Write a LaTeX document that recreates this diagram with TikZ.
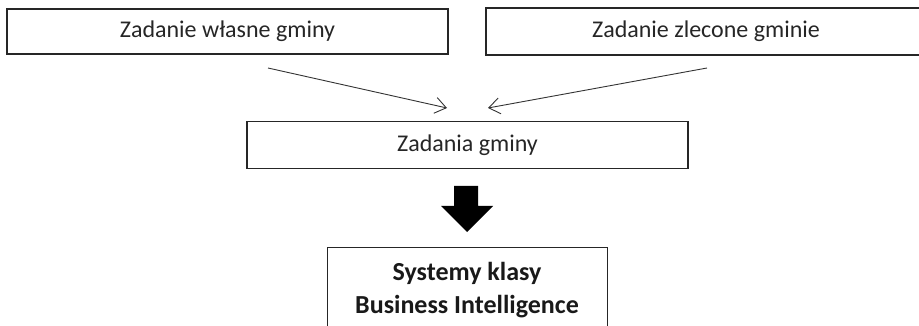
\documentclass[tikz,border=0pt]{standalone}
\usepackage{fontspec}
\setmainfont{Carlito}
\usetikzlibrary{arrows.meta}
\begin{document}
\begin{tikzpicture}[x=1pt,y=-1pt,
  box/.style={draw=black!85, line width=1.1pt, inner sep=0pt, font=\fontsize{24}{28}\selectfont, text=black!85},
  thin/.style={draw=black!80, line width=0.9pt, -{Straight Barb[length=11pt,width=16pt,line width=0.9pt]}}]
\useasboundingbox (0,0) rectangle (919,326);
\node[box, minimum width=441pt, minimum height=45pt] (own) at (227.5,31.5) {Zadanie własne gminy};
\node[box, minimum width=440pt, minimum height=47pt] (del) at (706,31.5) {Zadanie zlecone gminie};
\node[box, minimum width=441pt, minimum height=47pt] (tasks) at (467.5,145) {Zadania gminy};
\coordinate (a1s) at (268,68);
\coordinate (a1e) at (447,108);
\coordinate (a2s) at (707,68);
\coordinate (a2e) at (488,108);
\draw[thin] (a1s) -- (a1e);
\draw[thin] (a2s) -- (a2e);
\node[box, minimum width=280pt, minimum height=100pt, anchor=north west] (bi) at (327,247) {};
\node[font=\bfseries\fontsize{26}{33}\selectfont, text=black!90, align=center, anchor=north] (bitext) at (467,259) {Systemy klasy\\Business Intelligence};
\fill[black] (454,186) -- (478,186) -- (478,206) -- (493,206) -- (467,232) -- (441,206) -- (454,206) -- cycle;
\end{tikzpicture}
\end{document}
